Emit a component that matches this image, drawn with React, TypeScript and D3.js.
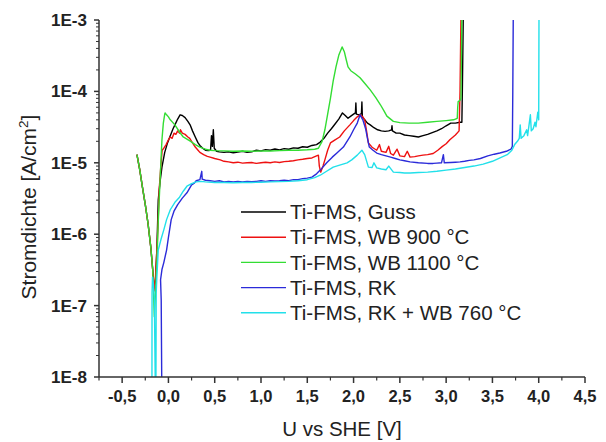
import React from "react";
import * as d3 from "d3";

type Pt = [number, number];

const seriesNames = [
  "Ti-FMS, Guss",
  "Ti-FMS, WB 900 °C",
  "Ti-FMS, WB 1100 °C",
  "Ti-FMS, RK",
  "Ti-FMS, RK + WB 760 °C",
];
const seriesColors = ["#000000", "#ee1111", "#33dd33", "#2b2bd9", "#22e0ea"];

const xTicks = [-0.5, 0, 0.5, 1, 1.5, 2, 2.5, 3, 3.5, 4, 4.5];
const xMinorTicks = [-0.75, -0.25, 0.25, 0.75, 1.25, 1.75, 2.25, 2.75, 3.25, 3.75, 4.25];
const yTicks = [1e-8, 1e-7, 1e-6, 1e-5, 1e-4, 1e-3];
const yTickLabels = ["1E-8", "1E-7", "1E-6", "1E-5", "1E-4", "1E-3"];

const guss: Pt[] = [
  [-0.34, 1.3e-5], [-0.31, 8e-6], [-0.28, 4.5e-6], [-0.25, 2.6e-6], [-0.22, 1.4e-6], [-0.19, 6.5e-7],
  [-0.17, 3.2e-7], [-0.155, 1.8e-7], [-0.14, 2.2e-7], [-0.125, 6e-7], [-0.11, 3.0e-6], [-0.09, 5.5e-6],
  [-0.07, 8.7e-6], [-0.04, 1.4e-5], [-0.01, 1.9e-5], [0.02, 2.4e-5], [0.05, 3.0e-5], [0.07, 3.4e-5],
  [0.1, 4.1e-5], [0.126, 4.7e-5], [0.15, 4.6e-5], [0.18, 4.3e-5], [0.21, 3.8e-5], [0.234, 3.4e-5],
  [0.26, 2.8e-5], [0.29, 2.3e-5], [0.32, 1.9e-5], [0.34, 1.75e-5], [0.37, 1.6e-5], [0.4, 1.5e-5],
  [0.43, 1.48e-5], [0.455, 1.5e-5], [0.465, 2.4e-5], [0.475, 1.7e-5], [0.485, 2.9e-5], [0.495, 1.6e-5],
  [0.52, 1.45e-5], [0.55, 1.42e-5], [0.6, 1.4e-5], [0.65, 1.43e-5], [0.7, 1.38e-5], [0.75, 1.41e-5],
  [0.8, 1.45e-5], [0.85, 1.4e-5], [0.9, 1.42e-5], [0.95, 1.5e-5], [1.0, 1.47e-5], [1.05, 1.53e-5],
  [1.1, 1.5e-5], [1.15, 1.56e-5], [1.2, 1.52e-5], [1.25, 1.58e-5], [1.3, 1.55e-5], [1.35, 1.62e-5],
  [1.4, 1.6e-5], [1.45, 1.68e-5], [1.5, 1.65e-5], [1.55, 1.75e-5], [1.6, 1.8e-5], [1.64, 1.95e-5],
  [1.68, 2.2e-5], [1.72, 2.6e-5], [1.76, 3.0e-5], [1.8, 3.5e-5], [1.84, 4.1e-5], [1.88, 5.0e-5],
  [1.91, 4.6e-5], [1.94, 4.2e-5], [1.97, 4.5e-5], [2.0, 4.8e-5], [2.02, 5.0e-5], [2.025, 6.9e-5],
  [2.03, 4.8e-5], [2.06, 4.7e-5], [2.085, 4.9e-5], [2.09, 7.1e-5], [2.095, 4.4e-5], [2.12, 4.0e-5],
  [2.15, 3.6e-5], [2.18, 3.4e-5], [2.22, 3.1e-5], [2.26, 2.9e-5], [2.3, 2.8e-5], [2.34, 2.75e-5],
  [2.38, 2.8e-5], [2.41, 2.9e-5], [2.415, 3.3e-5], [2.42, 2.8e-5], [2.46, 2.6e-5], [2.5, 2.6e-5],
  [2.55, 2.45e-5], [2.6, 2.4e-5], [2.65, 2.35e-5], [2.7, 2.3e-5], [2.75, 2.4e-5], [2.8, 2.5e-5],
  [2.85, 2.65e-5], [2.9, 2.8e-5], [2.95, 3.0e-5], [3.0, 3.3e-5], [3.05, 3.6e-5], [3.1, 3.6e-5],
  [3.15, 3.7e-5], [3.17, 3.7e-5], [3.175, 1e-4], [3.185, 1.1e-3],
];

const wb900: Pt[] = [
  [-0.34, 1.3e-5], [-0.31, 8e-6], [-0.28, 4.5e-6], [-0.25, 2.6e-6], [-0.22, 1.4e-6], [-0.19, 6.5e-7],
  [-0.17, 3.2e-7], [-0.155, 1.6e-7], [-0.14, 2.5e-7], [-0.12, 8e-7], [-0.105, 2.5e-6], [-0.1, 4.2e-6],
  [-0.085, 8e-6], [-0.068, 1.5e-5], [-0.05, 1.6e-5], [-0.025, 1.8e-5], [0.0, 2.1e-5], [0.02, 2.3e-5],
  [0.04, 2.2e-5], [0.06, 2.6e-5], [0.08, 2.5e-5], [0.1, 2.8e-5], [0.12, 2.6e-5], [0.13, 2.9e-5],
  [0.15, 2.6e-5], [0.18, 2.5e-5], [0.21, 2.3e-5], [0.23, 2.2e-5], [0.26, 1.9e-5], [0.29, 1.66e-5],
  [0.32, 1.5e-5], [0.34, 1.4e-5], [0.38, 1.3e-5], [0.42, 1.23e-5], [0.45, 1.2e-5], [0.5, 1.15e-5],
  [0.56, 1.1e-5], [0.6, 1.05e-5], [0.65, 1.03e-5], [0.7, 1.0e-5], [0.75, 1.02e-5], [0.8, 0.99e-5],
  [0.85, 1.0e-5], [0.9, 1.01e-5], [0.95, 0.98e-5], [1.0, 1.0e-5], [1.05, 1.02e-5], [1.1, 1.0e-5],
  [1.15, 1.03e-5], [1.2, 1.01e-5], [1.25, 1.04e-5], [1.3, 1.05e-5], [1.35, 1.07e-5], [1.4, 1.1e-5],
  [1.45, 1.12e-5], [1.5, 1.15e-5], [1.55, 1.17e-5], [1.6, 1.25e-5], [1.62, 1.28e-5], [1.63, 9e-6],
  [1.645, 7.4e-6], [1.67, 9e-6], [1.69, 1.1e-5], [1.72, 1.5e-5], [1.75, 1.9e-5], [1.8, 2.1e-5],
  [1.85, 2.3e-5], [1.9, 2.8e-5], [1.96, 3.4e-5], [2.0, 3.9e-5], [2.04, 4.4e-5], [2.07, 4.7e-5],
  [2.1, 4.4e-5], [2.12, 4.0e-5], [2.14, 2.8e-5], [2.16, 1.9e-5], [2.2, 1.65e-5], [2.25, 1.5e-5],
  [2.28, 1.8e-5], [2.3, 1.45e-5], [2.35, 1.4e-5], [2.38, 1.7e-5], [2.4, 1.35e-5], [2.43, 1.28e-5],
  [2.47, 1.55e-5], [2.5, 1.25e-5], [2.55, 1.22e-5], [2.58, 1.45e-5], [2.61, 1.2e-5], [2.66, 1.22e-5],
  [2.7, 1.25e-5], [2.75, 1.28e-5], [2.8, 1.3e-5], [2.86, 1.35e-5], [2.91, 1.5e-5], [2.96, 1.7e-5],
  [3.0, 1.85e-5], [3.04, 2.1e-5], [3.1, 2.45e-5], [3.14, 2.8e-5], [3.15, 1e-4], [3.16, 1.1e-3],
];

const wb1100: Pt[] = [
  [-0.34, 1.3e-5], [-0.31, 8e-6], [-0.28, 4.5e-6], [-0.25, 2.6e-6], [-0.22, 1.4e-6], [-0.19, 6.5e-7],
  [-0.17, 3.2e-7], [-0.16, 1.4e-7], [-0.152, 7e-8], [-0.14, 1.5e-7], [-0.125, 4e-7], [-0.11, 1.5e-6],
  [-0.1, 3.0e-6], [-0.085, 8e-6], [-0.07, 2.1e-5], [-0.055, 3.6e-5], [-0.04, 4.8e-5], [-0.036, 5.0e-5],
  [-0.02, 4.7e-5], [0.0, 4.4e-5], [0.02, 4.0e-5], [0.07, 3.4e-5], [0.12, 2.7e-5], [0.16, 2.3e-5],
  [0.2, 2.15e-5], [0.24, 2.0e-5], [0.29, 1.8e-5], [0.34, 1.66e-5], [0.4, 1.55e-5], [0.45, 1.5e-5],
  [0.5, 1.48e-5], [0.6, 1.47e-5], [0.7, 1.45e-5], [0.8, 1.46e-5], [0.9, 1.45e-5], [1.0, 1.47e-5],
  [1.1, 1.46e-5], [1.2, 1.48e-5], [1.3, 1.5e-5], [1.4, 1.5e-5], [1.5, 1.52e-5], [1.58, 1.55e-5],
  [1.62, 1.6e-5], [1.66, 2.0e-5], [1.69, 2.9e-5], [1.72, 4.8e-5], [1.75, 8e-5], [1.78, 1.4e-4],
  [1.81, 2.2e-4], [1.84, 3.2e-4], [1.876, 4.2e-4], [1.9, 3.6e-4], [1.92, 2.8e-4], [1.94, 2.2e-4],
  [1.97, 1.95e-4], [2.02, 1.75e-4], [2.07, 1.55e-4], [2.12, 1.3e-4], [2.18, 1.05e-4], [2.24, 8.2e-5],
  [2.29, 6.5e-5], [2.33, 5.3e-5], [2.36, 4.5e-5], [2.43, 3.8e-5], [2.5, 3.65e-5], [2.6, 3.6e-5],
  [2.7, 3.6e-5], [2.8, 3.7e-5], [2.9, 3.8e-5], [3.0, 3.9e-5], [3.08, 4.0e-5], [3.12, 4.2e-5],
  [3.125, 6e-5], [3.13, 7.2e-5], [3.15, 7.5e-5], [3.16, 8e-5], [3.17, 1.1e-3],
];

const rk: Pt[] = [
  [-0.072, 8e-9], [-0.078, 1.2e-7], [-0.085, 2.3e-7], [-0.07, 3.2e-7], [-0.05, 4.0e-7], [-0.02, 6e-7],
  [0.0, 9e-7], [0.03, 1.6e-6], [0.06, 2.1e-6], [0.1, 2.6e-6], [0.15, 3.2e-6], [0.2, 3.8e-6],
  [0.25, 4.9e-6], [0.28, 5.2e-6], [0.3, 5.6e-6], [0.34, 5.8e-6], [0.36, 7.6e-6], [0.365, 5.9e-6],
  [0.4, 5.7e-6], [0.45, 5.6e-6], [0.5, 5.5e-6], [0.55, 5.6e-6], [0.6, 5.4e-6], [0.65, 5.5e-6],
  [0.7, 5.4e-6], [0.75, 5.5e-6], [0.8, 5.4e-6], [0.85, 5.5e-6], [0.9, 5.45e-6], [0.95, 5.5e-6],
  [1.0, 5.6e-6], [1.05, 5.5e-6], [1.1, 5.6e-6], [1.15, 5.55e-6], [1.2, 5.6e-6], [1.25, 5.7e-6],
  [1.3, 5.6e-6], [1.35, 5.8e-6], [1.4, 5.8e-6], [1.45, 6.0e-6], [1.5, 6.1e-6], [1.55, 6.3e-6],
  [1.6, 7.0e-6], [1.64, 7.9e-6], [1.71, 1.0e-5], [1.77, 1.2e-5], [1.82, 1.37e-5], [1.89, 1.66e-5],
  [1.96, 2.3e-5], [2.0, 2.9e-5], [2.04, 3.6e-5], [2.07, 4.7e-5], [2.1, 4.0e-5], [2.13, 3.0e-5],
  [2.15, 2.2e-5], [2.17, 1.66e-5], [2.21, 1.5e-5], [2.25, 1.37e-5], [2.3, 1.3e-5], [2.35, 1.25e-5],
  [2.4, 1.2e-5], [2.45, 1.15e-5], [2.5, 1.1e-5], [2.55, 1.07e-5], [2.61, 1.03e-5], [2.7, 1.0e-5],
  [2.8, 0.98e-5], [2.86, 0.98e-5], [2.9, 0.99e-5], [2.95, 1.0e-5], [2.97, 1.3e-5], [2.98, 1.0e-5],
  [3.05, 1.01e-5], [3.1, 1.02e-5], [3.15, 1.03e-5], [3.2, 1.05e-5], [3.25, 1.08e-5], [3.3, 1.1e-5],
  [3.37, 1.15e-5], [3.45, 1.25e-5], [3.52, 1.32e-5], [3.58, 1.37e-5], [3.65, 1.45e-5], [3.7, 1.55e-5],
  [3.715, 1.7e-5], [3.72, 1e-4], [3.725, 1.1e-3],
];

const rk760: Pt[] = [
  [-0.178, 8e-9], [-0.177, 1.5e-7], [-0.172, 2.5e-7], [-0.162, 2.0e-7], [-0.152, 1.2e-7], [-0.142, 8e-9],
  [-0.135, 8e-9], [-0.132, 1.5e-7], [-0.125, 2.5e-7], [-0.11, 6e-7], [-0.08, 8.5e-7], [-0.05, 1.15e-6],
  [-0.02, 1.6e-6], [0.02, 2.2e-6], [0.07, 2.8e-6], [0.12, 3.3e-6], [0.16, 4.0e-6], [0.2, 4.7e-6],
  [0.25, 5.1e-6], [0.3, 5.4e-6], [0.35, 5.5e-6], [0.4, 5.4e-6], [0.5, 5.3e-6], [0.6, 5.3e-6],
  [0.7, 5.25e-6], [0.8, 5.3e-6], [0.9, 5.3e-6], [1.0, 5.35e-6], [1.1, 5.4e-6], [1.2, 5.45e-6],
  [1.3, 5.5e-6], [1.4, 5.6e-6], [1.5, 5.8e-6], [1.58, 6.2e-6], [1.64, 6.7e-6], [1.7, 7.5e-6],
  [1.78, 8.7e-6], [1.85, 9.3e-6], [1.93, 1.0e-5], [1.98, 1.1e-5], [2.04, 1.28e-5], [2.09, 1.5e-5],
  [2.12, 1.3e-5], [2.16, 8.7e-6], [2.2, 8.6e-6], [2.22, 1.0e-5], [2.25, 8.5e-6], [2.3, 8.2e-6],
  [2.35, 8e-6], [2.38, 9e-6], [2.43, 7.4e-6], [2.5, 7.3e-6], [2.55, 7.2e-6], [2.61, 7.2e-6],
  [2.7, 7.3e-6], [2.8, 7.4e-6], [2.9, 7.6e-6], [3.0, 7.9e-6], [3.1, 8.2e-6], [3.2, 8.6e-6],
  [3.3, 9.0e-6], [3.4, 9.6e-6], [3.5, 1.05e-5], [3.6, 1.2e-5], [3.66, 1.3e-5], [3.71, 1.5e-5],
  [3.74, 1.8e-5], [3.77, 2.0e-5], [3.79, 2.2e-5], [3.8, 3.4e-5], [3.81, 2.2e-5], [3.84, 2.4e-5],
  [3.87, 2.9e-5], [3.88, 2.4e-5], [3.91, 4.7e-5], [3.92, 2.8e-5], [3.94, 3.0e-5], [3.96, 3.7e-5],
  [3.97, 3.2e-5], [3.99, 5.1e-5], [4.0, 4e-5], [4.003, 1.1e-3],
];

const seriesData: Pt[][] = [guss, wb900, wb1100, rk, rk760];

const W = 606;
const H = 442;
const L = 99;
const R = 585;
const T = 20;
const B = 377;
const FONT = "'Liberation Sans', Arial, sans-serif";

export default function App() {
  const x = d3.scaleLinear().domain([-0.75, 4.5]).range([L, R]);
  const y = d3.scaleLog().domain([1e-8, 1e-3]).range([B, T]);
  const line = d3
    .line<Pt>()
    .x((d) => x(d[0]))
    .y((d) => y(d[1]));

  const yMinor: number[] = [];
  for (let e = -8; e < -3; e++) {
    for (let m = 2; m <= 9; m++) yMinor.push(m * Math.pow(10, e));
  }

  const axisColor = "#333";
  const legendX = 241;
  const legendY0 = 212;
  const legendDy = 25.2;

  return (
    <svg
      width={W}
      height={H}
      style={{ position: "absolute", left: 0, top: 0, background: "#fff" }}
      fontFamily={FONT}
    >
      <defs>
        <clipPath id="plotClip">
          <rect x={L} y={T} width={R - L} height={B - T} />
        </clipPath>
      </defs>
      <g clipPath="url(#plotClip)">
        {seriesData.map((d, i) => (
          <path
            key={i}
            d={line(d) || ""}
            fill="none"
            stroke={seriesColors[i]}
            strokeWidth={1.4}
            strokeLinejoin="round"
          />
        ))}
      </g>
      <line x1={L} x2={R} y1={B} y2={B} stroke={axisColor} strokeWidth={1.5} />
      <line x1={L} x2={L} y1={T} y2={B} stroke={axisColor} strokeWidth={1.5} />
      {xTicks.map((t) => (
        <line key={"xt" + t} x1={x(t)} x2={x(t)} y1={B} y2={B + 6} stroke={axisColor} strokeWidth={1.5} />
      ))}
      {xMinorTicks.map((t) => (
        <line key={"xm" + t} x1={x(t)} x2={x(t)} y1={B} y2={B + 3.5} stroke={axisColor} strokeWidth={1.2} />
      ))}
      {yTicks.map((t) => (
        <line key={"yt" + t} x1={L - 5} x2={L} y1={y(t)} y2={y(t)} stroke={axisColor} strokeWidth={1.5} />
      ))}
      {yMinor.map((t, i) => (
        <line key={"ym" + i} x1={L - 3} x2={L} y1={y(t)} y2={y(t)} stroke={axisColor} strokeWidth={1} />
      ))}
      {xTicks.map((t) => (
        <text
          key={"xl" + t}
          x={x(t)}
          y={B + 25}
          textAnchor="middle"
          fontSize={16.5}
          fontWeight="bold"
          fill="#222"
        >
          {d3.format(".1f")(t).replace(".", ",").replace("−", "-")}
        </text>
      ))}
      {yTicks.map((t, i) => (
        <text
          key={"yl" + t}
          x={L - 12}
          y={y(t)}
          dy="0.35em"
          textAnchor="end"
          fontSize={17}
          fontWeight="bold"
          fill="#222"
        >
          {yTickLabels[i]}
        </text>
      ))}
      <text x={(L + R) / 2} y={436} textAnchor="middle" fontSize={20.5} fill="#222">
        U vs SHE [V]
      </text>
      <text
        transform={`translate(36, 207) rotate(-90)`}
        textAnchor="middle"
        fontSize={21}
        fill="#222"
      >
        Stromdichte [A/cm
        <tspan fontSize={13.5} dy={-8}>2</tspan>
        <tspan dy={8}>]</tspan>
      </text>
      {seriesNames.map((n, i) => (
        <g key={n}>
          <line
            x1={legendX}
            x2={legendX + 45}
            y1={legendY0 + i * legendDy}
            y2={legendY0 + i * legendDy}
            stroke={seriesColors[i]}
            strokeWidth={1.4}
          />
          <text x={legendX + 49} y={legendY0 + i * legendDy} dy="0.35em" fontSize={20.5} fill="#222">
            {n}
          </text>
        </g>
      ))}
    </svg>
  );
}
